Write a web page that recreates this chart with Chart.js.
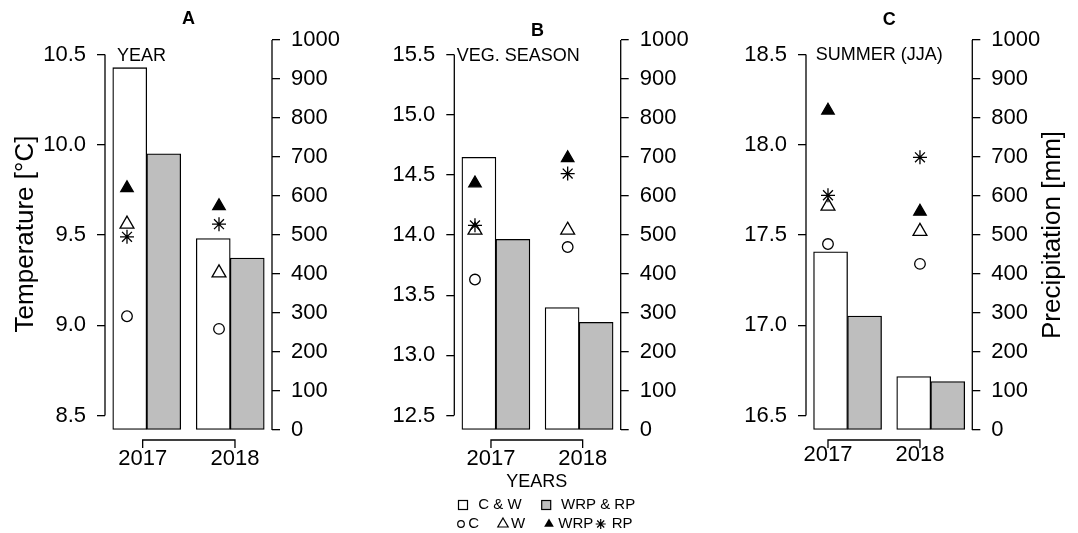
<!DOCTYPE html>
<html>
<head>
<meta charset="utf-8">
<script src="https://cdn.jsdelivr.net/npm/chart.js@4.4.1/dist/chart.umd.min.js"></script>
<style>
  body { margin: 0; background: #fff; width: 1078px; height: 533px; overflow: hidden; position: relative; }
  .panel { position: absolute; top: 0; }
</style>
</head>
<body>
<div class="panel" style="left:0"><canvas id="cA" width="360" height="533"></canvas></div>
<div class="panel" style="left:360px"><canvas id="cB" width="360" height="533"></canvas></div>
<div class="panel" style="left:720px"><canvas id="cC" width="358" height="533"></canvas></div>
<script>
const FONT = "'Liberation Sans', Arial, Helvetica, sans-serif";

// shared
const years = ['2017', '2018'];
const precipTicks = [0, 100, 200, 300, 400, 500, 600, 700, 800, 900, 1000];

// A - whole year
const tempTicksA = [8.5, 9.0, 9.5, 10.0, 10.5];
const precipCW_A = [929, 491];
const precipWRP_A = [708, 441];
const tempC_A = [9.05, 8.98];
const tempW_A = [9.56, 9.29];
const tempWRP_A = [9.76, 9.66];
const tempRP_A = [9.49, 9.56];

// B - vegetation season
const tempTicksB = [12.5, 13.0, 13.5, 14.0, 14.5, 15.0, 15.5];
const precipCW_B = [699, 314];
const precipWRP_B = [489, 276];
const tempC_B = [13.63, 13.90];
const tempW_B = [14.04, 14.04];
const tempWRP_B = [14.43, 14.64];
const tempRP_B = [14.08, 14.51];

// C - summer (JJA)
const tempTicksC = [16.5, 17.0, 17.5, 18.0, 18.5];
const precipCW_C = [457, 137];
const precipWRP_C = [292, 124];
const tempC_C = [17.45, 17.34];
const tempW_C = [17.66, 17.52];
const tempWRP_C = [18.19, 17.63];
const tempRP_C = [17.72, 17.93];

Chart.defaults.font.family = FONT;
Chart.defaults.color = '#000';

function drawLegend(ctx) {
  ctx.fillStyle = '#000';
  ctx.strokeStyle = '#000';
  ctx.lineWidth = 1.2;
  ctx.textBaseline = 'middle';
  ctx.font = '18px ' + FONT;
  ctx.textAlign = 'center';
  ctx.fillText('YEARS', 176.7, 482);

  ctx.font = '15px ' + FONT;
  ctx.textAlign = 'left';
  // row 1: bars
  ctx.strokeRect(98.5, 500.5, 9, 9);
  ctx.fillText('C & W', 118.3, 505);
  ctx.fillStyle = '#bebebe';
  ctx.fillRect(181.7, 500.5, 9, 9);
  ctx.strokeRect(181.7, 500.5, 9, 9);
  ctx.fillStyle = '#000';
  ctx.fillText('WRP & RP', 201, 505);

  // row 2: points
  const y = 524;
  ctx.beginPath(); ctx.arc(101, y, 3.3, 0, Math.PI * 2); ctx.stroke();
  ctx.fillText('C', 108.3, y);
  const tri = (cx, r, fill) => {
    ctx.beginPath();
    ctx.moveTo(cx, y - r);
    ctx.lineTo(cx + r * 0.866, y + r / 2);
    ctx.lineTo(cx - r * 0.866, y + r / 2);
    ctx.closePath();
    if (fill) ctx.fill(); else ctx.stroke();
  };
  tri(143, 6, false);
  ctx.fillText('W', 151, y);
  tri(189, 5.6, true);
  ctx.fillText('WRP', 198.3, y);
  ctx.beginPath();
  const r = 5;
  for (let k = 0; k < 4; k++) {
    const a = k * Math.PI / 4;
    ctx.moveTo(240.7 - Math.cos(a) * r, y - Math.sin(a) * r);
    ctx.lineTo(240.7 + Math.cos(a) * r, y + Math.sin(a) * r);
  }
  ctx.stroke();
  ctx.fillText('RP', 251.7, y);
}

const rStyle = {
  id: 'rStyle',
  afterDraw(chart, args, o) {
    const { ctx, chartArea: a, scales } = chart;
    const yT = scales.yT, yP = scales.yP, xb = scales.xb;
    ctx.save();
    ctx.strokeStyle = '#000';
    ctx.lineWidth = 1.3;
    const seg = (x1, y1, x2, y2) => { ctx.beginPath(); ctx.moveTo(x1, y1); ctx.lineTo(x2, y2); ctx.stroke(); };
    // axis lines between first and last tick, R style
    seg(a.left, yT.getPixelForValue(yT.ticks[0].value), a.left, yT.getPixelForValue(yT.ticks[yT.ticks.length - 1].value));
    seg(a.right, yP.getPixelForValue(yP.ticks[0].value), a.right, yP.getPixelForValue(yP.ticks[yP.ticks.length - 1].value));
    // year bracket
    const yb = a.bottom + 10;
    const x1 = xb.getPixelForValue(xb.ticks[0].value);
    const x2 = xb.getPixelForValue(xb.ticks[xb.ticks.length - 1].value);
    ctx.beginPath();
    ctx.moveTo(x1, yb + 8); ctx.lineTo(x1, yb); ctx.lineTo(x2, yb); ctx.lineTo(x2, yb + 8);
    ctx.stroke();

    ctx.fillStyle = '#000';
    ctx.textBaseline = 'middle';
    ctx.textAlign = 'center';
    ctx.font = 'bold 18px ' + FONT;
    ctx.fillText(o.letter, (a.left + a.right) / 2, o.letterY);
    ctx.font = '18px ' + FONT;
    ctx.textAlign = 'left';
    ctx.fillText(o.season, a.left + o.seasonDx, o.seasonY);

    ctx.font = '26px ' + FONT;
    ctx.textAlign = 'center';
    if (o.leftTitle) {
      ctx.save();
      ctx.translate(25.5, 234);
      ctx.rotate(-Math.PI / 2);
      ctx.fillText(o.leftTitle, 0, 0);
      ctx.restore();
    }
    if (o.rightTitle) {
      ctx.save();
      ctx.translate(332.5, 235);
      ctx.rotate(-Math.PI / 2);
      ctx.fillText(o.rightTitle, 0, 0);
      ctx.restore();
    }
    if (o.legend) drawLegend(ctx);
    ctx.restore();
  }
};

function makePanel(id, p) {
  const canvas = document.getElementById(id);
  const W = canvas.width, H = canvas.height;
  const pts = vals => vals.map((v, i) => ({ x: i + 1, y: v }));
  const pointSet = (label, vals, style, radius, fill) => ({
    type: 'line', label, data: pts(vals), xAxisID: 'xp', yAxisID: 'yT',
    showLine: false, pointStyle: style, pointRadius: radius, pointHoverRadius: radius,
    pointBackgroundColor: fill, pointBorderColor: '#000', pointBorderWidth: 1.3, order: 0
  });
  const barSet = (label, vals, color) => ({
    label, data: vals, backgroundColor: color, borderColor: '#000', borderWidth: 1.3,
    borderSkipped: false, xAxisID: 'x', yAxisID: 'yP', order: 1,
    barThickness: 34
  });
  const tickFont = { size: 22, family: FONT };
  const tickGrid = { drawOnChartArea: false, drawTicks: true, tickLength: 8, color: '#000', lineWidth: 1.3 };

  return new Chart(canvas, {
    type: 'bar',
    data: {
      labels: years,
      datasets: [
        pointSet('C', p.tC, 'circle', 5.3, 'rgba(0,0,0,0)'),
        pointSet('W', p.tW, 'triangle', 8, 'rgba(0,0,0,0)'),
        pointSet('WRP', p.tWRP, 'triangle', 7.2, '#000'),
        pointSet('RP', p.tRP, 'star', 7, '#000'),
        barSet('C & W', p.pCW, '#ffffff'),
        barSet('WRP & RP', p.pWRP, '#bebebe')
      ]
    },
    options: {
      responsive: false,
      animation: false,
      layout: { padding: { top: 40, left: 0, right: 0, bottom: 0 } },
      plugins: {
        legend: { display: false },
        tooltip: { enabled: false },
        rStyle: p.deco
      },
      scales: {
        x: { type: 'category', display: false, offset: true },
        xp: { type: 'linear', display: false, offset: false, min: p.xpMin, max: p.xpMax },
        xb: {
          type: 'linear', position: 'bottom', offset: false, min: p.xbMin, max: p.xbMax,
          afterBuildTicks: s => { s.ticks = years.map((y, i) => ({ value: i + 1 })); },
          ticks: { font: tickFont, padding: p.xbPad, autoSkip: false, maxRotation: 0,
                   callback: (v, i) => years[i] },
          grid: { display: false, drawTicks: false },
          border: { display: false },
          afterFit: s => { s.height = H - 430; }
        },
        yT: {
          type: 'linear', position: 'left', min: p.tMin, max: p.tMax,
          afterBuildTicks: s => { s.ticks = p.tTicks.map(v => ({ value: v })); },
          ticks: { font: tickFont, padding: 11, callback: v => Number(v).toFixed(1) },
          grid: tickGrid,
          border: { display: false },
          afterFit: s => { s.width = p.left; }
        },
        yP: {
          type: 'linear', position: 'right', min: 0, max: 1000,
          afterBuildTicks: s => { s.ticks = precipTicks.map(v => ({ value: v })); },
          ticks: { font: tickFont, padding: 11, callback: v => String(v) },
          grid: tickGrid,
          border: { display: false },
          afterFit: s => { s.width = W - p.right; }
        }
      }
    },
    plugins: [rStyle]
  });
}

makePanel('cA', {
  tTicks: tempTicksA, tMin: 8.42, tMax: 10.58,
  pCW: precipCW_A, pWRP: precipWRP_A,
  tC: tempC_A, tW: tempW_A, tWRP: tempWRP_A, tRP: tempRP_A,
  left: 105, right: 272,
  xpMin: 0.761, xpMax: 2.576, xbMin: 0.592, xbMax: 2.401, xbPad: 16,
  deco: { letter: 'A', letterY: 19.5, season: 'YEAR', seasonDx: 12, seasonY: 56, leftTitle: 'Temperature [°C]' }
});

makePanel('cB', {
  tTicks: tempTicksB, tMin: 12.38, tMax: 15.62,
  pCW: precipCW_B, pWRP: precipWRP_B,
  tC: tempC_B, tW: tempW_B, tWRP: tempWRP_B, tRP: tempRP_B,
  left: 94.3, right: 260.7,
  xpMin: 0.777, xpMax: 2.572, xbMin: 0.6, xbMax: 2.415, xbPad: 16,
  deco: { letter: 'B', letterY: 31.5, season: 'VEG. SEASON', seasonDx: 2.4, seasonY: 56, legend: true }
});

makePanel('cC', {
  tTicks: tempTicksC, tMin: 16.42, tMax: 18.58,
  pCW: precipCW_C, pWRP: precipWRP_C,
  tC: tempC_C, tW: tempW_C, tWRP: tempWRP_C, tRP: tempRP_C,
  left: 86, right: 252.3,
  xpMin: 0.761, xpMax: 2.569, xbMin: 0.761, xbMax: 2.569, xbPad: 11.5,
  deco: { letter: 'C', letterY: 20, season: 'SUMMER (JJA)', seasonDx: 9.7, seasonY: 55, rightTitle: 'Precipitation [mm]' }
});
</script>
</body>
</html>
